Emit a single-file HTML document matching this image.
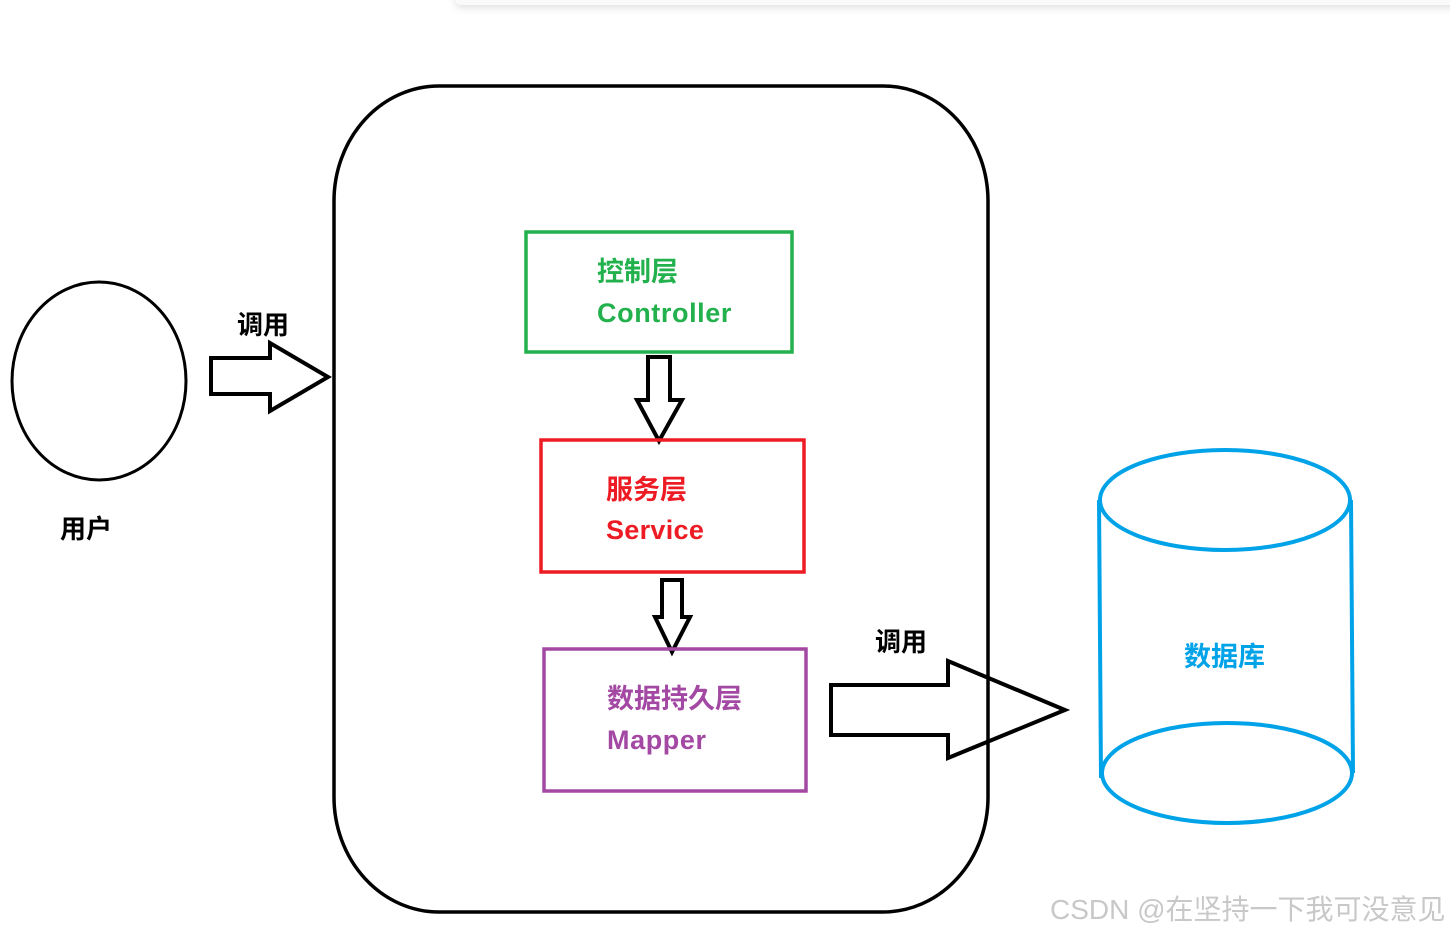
<!DOCTYPE html>
<html><head><meta charset="utf-8"><style>
html,body{margin:0;padding:0;background:#fff;}
body{width:1450px;height:934px;overflow:hidden;position:relative;font-family:"Liberation Sans","Noto Sans CJK SC",sans-serif;}
.t{position:absolute;font-weight:bold;white-space:nowrap;}
</style></head><body>
<div style="position:absolute;left:455px;top:-10px;width:1010px;height:15px;background:#fafafa;border-radius:6px;box-shadow:0 3px 8px rgba(0,0,0,0.12);"></div>
<svg width="1450" height="934" style="position:absolute;left:0;top:0" fill="none" stroke-linejoin="miter">
<rect x="334" y="86" width="654" height="826" rx="105" ry="115" stroke="#000" stroke-width="3.5"/>
<ellipse cx="99" cy="381" rx="87" ry="99" stroke="#000" stroke-width="3"/>
<polygon points="211,358 270,358 270,343 328,377 270,411 270,394 211,394" stroke="#000" stroke-width="4"/>
<rect x="526" y="232" width="266" height="120" stroke="#22b14c" stroke-width="3.5"/>
<polygon points="648,357 670,357 670,400 682,400 659,441 637,400 648,400" stroke="#000" stroke-width="4"/>
<rect x="541" y="440" width="263" height="132" stroke="#ed1c24" stroke-width="3.5"/>
<polygon points="662,580 682,580 682,617 690,617 672,652 655,617 662,617" stroke="#000" stroke-width="4"/>
<rect x="544" y="649" width="262" height="142" stroke="#a349a4" stroke-width="3.5"/>
<polygon points="831,685 948,685 948,661 1065,710 948,758 948,735 831,735" stroke="#000" stroke-width="4"/>
<ellipse cx="1225" cy="500" rx="125" ry="50" stroke="#00a2e8" stroke-width="4"/>
<ellipse cx="1227" cy="773" rx="125" ry="50" stroke="#00a2e8" stroke-width="4"/>
<line x1="1099" y1="500" x2="1101" y2="778" stroke="#00a2e8" stroke-width="4"/>
<line x1="1351" y1="500" x2="1353" y2="773" stroke="#00a2e8" stroke-width="4"/>
</svg>
<div class="t" style="left:237px;top:305px;font-size:26px;color:#000">调用</div>
<div class="t" style="left:60px;top:509px;font-size:26px;color:#000">用户</div>
<div class="t" style="left:597px;top:250px;font-size:27px;color:#22b14c">控制层</div>
<div class="t" style="left:597px;top:298px;font-size:27px;color:#22b14c;letter-spacing:0.6px">Controller</div>
<div class="t" style="left:606px;top:468px;font-size:27px;color:#ed1c24">服务层</div>
<div class="t" style="left:606px;top:515px;font-size:27px;color:#ed1c24;letter-spacing:0.3px">Service</div>
<div class="t" style="left:607px;top:677px;font-size:27px;color:#a349a4">数据持久层</div>
<div class="t" style="left:607px;top:725px;font-size:27px;color:#a349a4;letter-spacing:0.6px">Mapper</div>
<div class="t" style="left:875px;top:622px;font-size:26px;color:#000">调用</div>
<div class="t" style="left:1184px;top:635px;font-size:27px;color:#00a2e8">数据库</div>
<div style="position:absolute;left:1050px;top:888px;font-size:28px;color:#c8c8c8;white-space:nowrap;">CSDN @在坚持一下我可没意见</div>
</body></html>
